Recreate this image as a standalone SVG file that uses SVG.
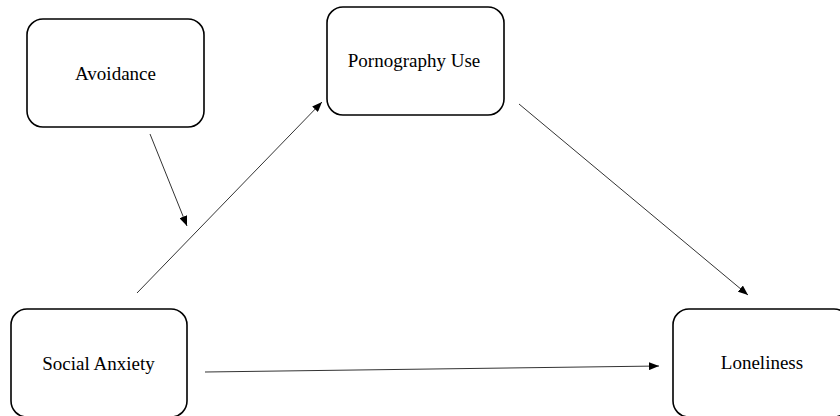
<svg xmlns="http://www.w3.org/2000/svg" width="840" height="416" viewBox="0 0 840 416">
  <defs>
    <marker id="arrow" markerWidth="10" markerHeight="8" refX="10" refY="4" orient="auto" markerUnits="userSpaceOnUse">
      <path d="M0,0 L10,4 L0,8 Z" fill="#000"/>
    </marker>
    <style>
      .box { fill: #fff; stroke: #000; stroke-width: 1.6; }
      .label { font-family: "Liberation Serif", "Times New Roman", serif; font-size: 19px; fill: #000; text-anchor: middle; }
      .edge { stroke: #333; stroke-width: 1; fill: none; marker-end: url(#arrow); }
    </style>
  </defs>
  <rect width="840" height="416" fill="#fff"/>

  <g id="connectors">
    <line class="edge" x1="150" y1="134" x2="187" y2="226"/>
    <line class="edge" x1="137" y1="293" x2="322" y2="102"/>
    <line class="edge" x1="519" y1="104" x2="748" y2="295"/>
    <line class="edge" x1="205" y1="372" x2="659" y2="366"/>
  </g>

  <g id="avoidance">
    <rect class="box" x="27" y="19" width="177" height="108" rx="16"/>
    <text class="label" x="115.5" y="80">Avoidance</text>
  </g>

  <g id="pornography-use">
    <rect class="box" x="327" y="7" width="177" height="108" rx="16"/>
    <text class="label" x="414" y="67">Pornography Use</text>
  </g>

  <g id="social-anxiety">
    <rect class="box" x="11" y="309" width="176" height="108" rx="16"/>
    <text class="label" x="98.5" y="370">Social Anxiety</text>
  </g>

  <g id="loneliness">
    <rect class="box" x="673" y="309" width="177" height="108" rx="16"/>
    <text class="label" x="762" y="369">Loneliness</text>
  </g>
</svg>
